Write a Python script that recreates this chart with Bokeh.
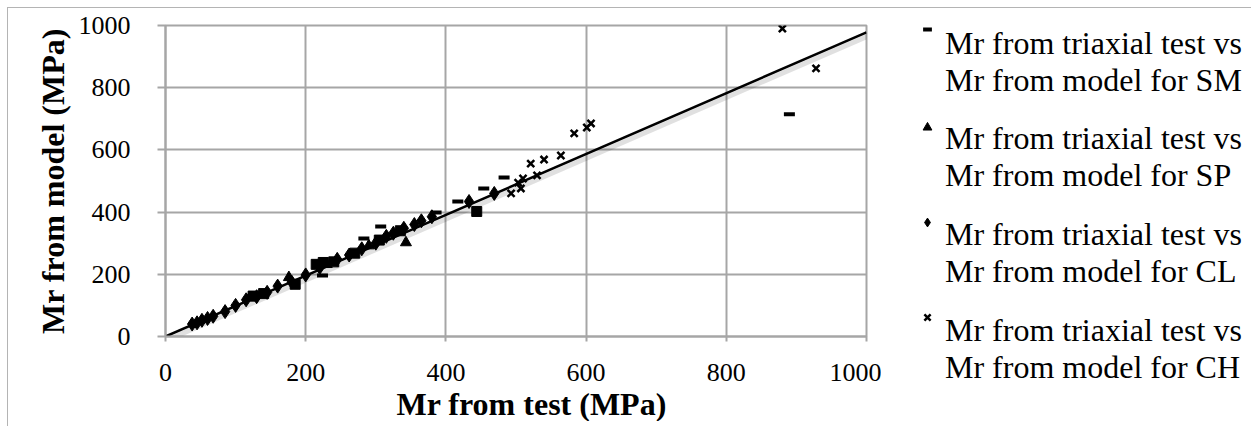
from bokeh.plotting import figure
from bokeh.layouts import row
from bokeh.models import Legend, LegendItem, Range1d, FixedTicker, Title
from bokeh.embed import file_html
from bokeh.resources import INLINE

# ---------------- data (MPa) ----------------
sm_test = [224, 283, 307, 386, 417, 454, 483, 890]
sm_model = [196, 315, 354, 399, 434, 476, 511, 715]

sp_test = [176, 343, 120, 230, 290]
sp_model = [190, 302, 125, 232, 292]

cl_test = [38, 45, 52, 60, 68, 85, 100, 115, 130, 145, 160, 180, 200, 220, 245,
           262, 280, 300, 315, 325, 340, 355, 365, 380, 433, 469]
cl_model = [40, 44, 52, 58, 65, 80, 100, 118, 128, 142, 162, 175, 198, 222, 248,
            262, 282, 300, 322, 332, 348, 360, 372, 385, 434, 460]

ch_test = [493, 507, 503, 510, 530, 521, 540, 564, 583, 601, 607, 880, 928]
ch_model = [460, 476, 495, 508, 518, 556, 569, 582, 653, 672, 685, 990, 862]

# unlabelled extra points (square markers)
ot_test = [125, 140, 185, 215, 225, 240, 270, 305, 335, 444]
ot_model = [130, 138, 168, 232, 238, 240, 268, 310, 340, 402]

trend_x = [0, 1000]
trend_y = [0, 978]

ticks = [0, 200, 400, 600, 800, 1000]

x_title = "Mr from test (MPa)"
y_title = "Mr from model (MPa)"
label_line1 = "Mr from triaxial test vs"
label_line2 = ["Mr from model for SM", "Mr from model for SP",
               "Mr from model for CL", "Mr from model for CH"]

GRID = "#a6a6a6"
BORDER = "1px solid #b4b4b4"
SERIF = "Liberation Serif"
NAN = float("nan")

# ---------------- main chart ----------------
p = figure(frame_width=701, frame_height=311, output_backend="svg",
           toolbar_location=None, title=None,
           x_range=Range1d(0, 1000), y_range=Range1d(0, 1000),
           min_border_left=157, min_border_top=17, min_border_bottom=60,
           min_border_right=15, background_fill_color="white",
           border_fill_color="white")
p.frame_align = False

p.outline_line_color = GRID
p.outline_line_width = 2
for g in (p.xgrid, p.ygrid):
    g.grid_line_color = GRID
    g.grid_line_width = 2

p.xaxis.ticker = FixedTicker(ticks=ticks)
p.yaxis.ticker = FixedTicker(ticks=ticks)
for ax in (p.xaxis, p.yaxis):
    ax.axis_line_color = GRID
    ax.axis_line_width = 2
    ax.major_tick_line_color = GRID
    ax.major_tick_line_width = 2
    ax.major_tick_in = 0
    ax.minor_tick_line_color = None
    ax.major_label_text_font = SERIF
    ax.major_label_text_font_size = "26px"
    ax.major_label_text_color = "black"
p.xaxis.major_tick_out = 5
p.yaxis.major_tick_out = 8
p.xaxis.major_label_standoff = 22
p.yaxis.major_label_standoff = 27

# axis titles (Excel places the x title slightly right of centre)
p.add_layout(Title(text=x_title, align="left", offset=231, standoff=0,
                   text_font=SERIF, text_font_size="32px", text_font_style="bold",
                   text_color="black"), "below")
p.add_layout(Title(text=y_title, align="center", standoff=10,
                   text_font=SERIF, text_font_size="32px", text_font_style="bold",
                   text_color="black"), "left")

# trend line with a soft shadow
p.line([x + 4 for x in trend_x], [y - 10 for y in trend_y], line_color="black",
       line_alpha=0.12, line_width=5)
p.line(trend_x, trend_y, line_color="black", line_width=2.5)

MARKERS = [dict(marker="dash", size=11, line_width=4),
           dict(marker="triangle", size=11),
           dict(marker="diamond", size=14),
           dict(marker="x", size=10, line_width=2.5)]

p.scatter(ot_test, ot_model, marker="square", size=10, color="black")
p.scatter(cl_test, cl_model, color="black", **MARKERS[2])
p.scatter(sp_test, sp_model, color="black", **MARKERS[1])
p.scatter(sm_test, sm_model, color="black", **MARKERS[0])
p.scatter(ch_test, ch_model, color="black", **MARKERS[3])

# ---------------- legend panel ----------------
q = figure(width=370, height=418, output_backend="svg", toolbar_location=None,
           title=None, x_range=Range1d(0, 1), y_range=Range1d(0, 1),
           x_axis_location=None, y_axis_location=None,
           min_border_left=0, min_border_right=0, min_border_top=0,
           min_border_bottom=0, outline_line_color=None,
           background_fill_color="white", border_fill_color="white")
q.frame_align = False
q.grid.visible = False

# key renderers carry no drawable point (NaN); they only supply the legend glyphs
key_renderers = [q.scatter([NAN], [NAN], color="black", **m) for m in MARKERS]
r_blank = q.line([NAN], [NAN], line_alpha=0)

common = dict(margin=0, padding=0, spacing=0, border_line_color=None,
              background_fill_alpha=0)

# legend texts (two lines per entry); offsets are px from panel bottom
text_offsets = [327, 232, 136, 40]
for line2, vy in zip(label_line2, text_offsets):
    q.add_layout(Legend(items=[LegendItem(label=label_line1, renderers=[r_blank]),
                               LegendItem(label=line2, renderers=[r_blank])],
                        location=(34, vy), glyph_width=20, glyph_height=20,
                        label_height=37, label_standoff=10,
                        label_text_font=SERIF, label_text_font_size="32px",
                        label_text_color="black", **common))

# legend keys, sitting at the top of each entry like the original
key_offsets = [386, 288, 193, 98]
for rend, vy in zip(key_renderers, key_offsets):
    q.add_layout(Legend(items=[LegendItem(label=" ", renderers=[rend])],
                        location=(35, vy), glyph_width=22, glyph_height=22,
                        label_height=22, label_standoff=0,
                        label_text_font_size="2px", **common))

layout = row(p, q, spacing=0)
layout.styles = {"margin-left": "7px", "margin-top": "7px",
                 "border-top": BORDER, "border-left": BORDER}
open("out.html", "w").write(file_html(layout, INLINE))
